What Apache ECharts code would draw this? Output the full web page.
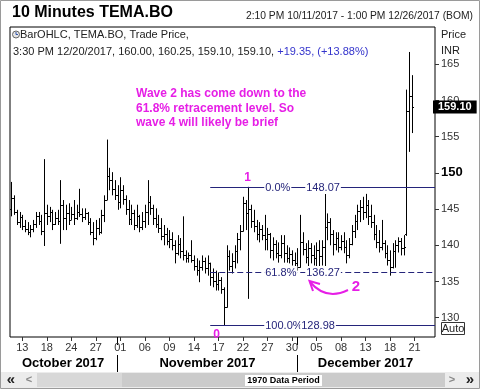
<!DOCTYPE html>
<html><head><meta charset="utf-8">
<script src="https://cdn.jsdelivr.net/npm/echarts@6.0.0/dist/echarts.min.js"></script>
<style>html,body{margin:0;padding:0;background:#fff}#c{width:480px;height:389px}</style>
</head><body><div id="c"></div>
<script>
// ---- data ----
const tradingDays = ['10/11','10/12','10/13','10/16','10/17','10/18','10/19','10/23','10/24','10/25','10/26','10/27','10/30','10/31',
  '11/01','11/02','11/03','11/06','11/07','11/08','11/09','11/10','11/13','11/14','11/15','11/16','11/17','11/20','11/21','11/22','11/23','11/24','11/27','11/28','11/29','11/30',
  '12/01','12/04','12/05','12/06','12/07','12/08','12/11','12/12','12/13','12/14','12/15','12/18','12/19','12/20','12/21','12/22','12/26'];
const tickDays = ['10/13','10/18','10/24','10/27','11/01','11/06','11/09','11/14','11/17','11/22','11/27','11/30','12/05','12/08','12/13','12/18','12/21'];
const monthNames = ['October 2017','November 2017','December 2017'];
const priceTicks = [130,135,140,145,150,155,160,165];

const open = [145.0,146.5,144.6,143.2,143.9,142.6,142.3,141.9,142.2,143.0,
 144.0,143.3,142.0,144.5,144.0,144.6,143.0,143.8,143.3,145.5,
 143.8,144.5,143.5,144.3,143.8,144.6,144.3,143.9,144.4,143.2,
 141.9,141.0,142.4,141.8,144.2,146.3,149.6,149.0,147.8,147.0,
 146.0,147.6,146.4,145.0,143.6,144.5,142.8,144.0,142.5,143.4,
 144.6,146.0,145.2,143.7,143.0,142.4,141.3,141.6,140.6,140.9,
 140.0,139.0,140.2,139.2,138.7,138.2,138.6,138.0,137.2,136.6,
 137.0,137.8,136.8,137.5,135.6,135.0,134.6,135.2,134.0,131.5,
 138.5,137.2,137.8,139.2,140.8,142.0,145.8,144.4,145.0,143.3,
 142.6,141.6,142.2,141.4,140.8,141.5,139.4,140.2,139.0,138.6,
 140.3,138.9,138.3,138.8,137.9,137.5,137.0,140.5,139.5,138.4,
 139.6,138.7,138.2,139.3,138.5,139.8,142.5,143.2,141.5,140.2,
 141.0,139.8,140.6,139.7,138.6,140.2,142.0,143.3,144.8,145.3,
 144.6,145.6,144.0,143.2,141.6,140.5,139.8,140.3,139.0,138.0,
 137.0,139.2,140.0,140.6,139.6,141.5,158.5,160.6];
const high = [148.75,146.9,144.9,144.6,144.2,143.5,143.2,142.8,143.5,144.6,
 144.6,144.2,151.9,145.6,145.3,144.9,144.6,144.9,149.0,146.25,
 145.6,145.8,145.3,146.25,145.6,147.8,145.1,145.1,144.6,143.75,
 143.2,143.5,143.75,144.9,146.9,154.6,150.7,150.1,149.0,148.3,
 149.4,148.3,146.9,146.25,145.6,144.9,145.6,144.2,144.6,145.6,
 149.0,146.8,145.6,145.1,144.2,143.75,142.8,142.4,142.1,141.8,
 140.7,141.4,141.0,144.0,139.3,139.0,140.7,138.6,138.2,137.9,
 138.6,138.3,138.6,137.6,136.8,136.5,136.25,135.6,134.2,140.0,
 139.3,138.9,140.0,141.7,142.8,146.7,146.25,148.07,145.6,144.9,
 143.5,143.2,142.8,144.2,142.4,141.7,141.1,140.7,140.4,141.4,
 141.4,140.0,139.7,139.3,139.0,139.6,144.2,141.8,140.3,140.7,
 140.3,140.0,140.4,140.7,140.7,147.1,144.4,143.75,142.1,141.8,
 141.8,141.4,141.8,140.7,141.0,142.8,144.2,145.6,146.25,146.7,
 147.1,146.25,145.6,144.2,142.8,142.1,143.5,140.7,140.0,139.3,
 140.3,140.7,141.1,141.0,141.4,161.5,166.7,163.5];
const low = [144.0,144.2,142.8,142.4,142.1,141.8,141.4,141.1,141.8,142.4,
 142.8,141.4,139.9,142.8,143.2,142.1,142.8,142.8,140.2,142.1,
 142.1,142.8,143.5,142.8,143.5,143.9,143.2,143.5,142.8,141.4,
 140.0,140.7,141.4,141.6,143.2,146.25,147.6,146.9,146.25,144.9,
 145.1,145.6,144.2,142.8,142.8,142.1,142.4,141.8,142.1,142.4,
 142.8,144.2,142.8,142.4,141.7,140.7,140.0,140.0,139.6,139.3,
 137.5,138.6,138.2,137.9,137.6,137.6,137.6,136.5,135.8,134.9,
 136.5,136.1,135.8,134.4,134.2,133.75,133.75,133.3,128.98,131.4,
 136.5,136.1,136.8,137.5,139.3,141.9,142.1,132.6,142.4,141.8,
 140.7,140.4,140.7,139.3,139.3,138.2,137.9,138.2,137.6,138.2,
 137.6,137.6,137.5,137.2,136.8,136.5,136.9,138.6,137.5,136.9,
 137.5,137.2,137.1,136.8,137.2,136.8,140.7,140.0,138.6,139.3,
 139.0,139.3,138.9,137.5,138.2,140.0,141.0,142.1,143.2,143.5,
 143.75,142.8,142.4,140.7,139.6,139.0,139.3,138.2,137.2,135.8,
 136.8,136.9,139.0,138.6,138.6,141.3,152.9,155.5];
const close = [146.5,144.6,143.2,143.9,142.6,142.3,141.9,142.2,143.0,144.0,
 143.3,142.0,144.5,144.0,144.6,143.0,143.8,143.3,145.5,143.8,
 144.5,143.5,144.3,143.8,144.6,144.3,143.9,144.4,143.2,141.9,
 141.0,142.4,141.8,144.2,146.3,149.6,149.0,147.8,147.0,146.0,
 147.6,146.4,145.0,143.6,144.5,142.8,144.0,142.5,143.4,144.6,
 146.0,145.2,143.7,143.0,142.4,141.3,141.6,140.6,140.9,140.0,
 139.0,140.2,139.2,138.7,138.2,138.6,138.0,137.2,136.6,137.0,
 137.8,136.8,137.5,135.6,135.0,134.6,135.2,134.0,131.5,138.5,
 137.2,137.8,139.2,140.8,142.0,145.8,144.4,145.0,143.3,142.6,
 141.6,142.2,141.4,140.8,141.5,139.4,140.2,139.0,138.6,140.3,
 138.9,138.3,138.8,137.9,137.5,137.0,140.5,139.5,138.4,139.6,
 138.7,138.2,139.3,138.5,139.8,142.5,143.2,141.5,140.2,141.0,
 139.8,140.6,139.7,138.6,140.2,142.0,143.3,144.8,145.3,144.6,
 145.6,144.0,143.2,141.6,140.5,139.8,140.3,139.0,138.0,137.0,
 139.2,140.0,140.6,139.6,139.75,158.5,160.6,159.10];
const fibLevels = [148.07, 136.27, 128.98];
const fibNames = ['0.0%', '61.8%', '100.0%'];
const lastPrice = 159.10;

// ---- build categories: partial first/last sessions get fewer slots ----
const categories = [];
tradingDays.forEach((d, i) => {
  const n = i === 0 ? 1 : (i === tradingDays.length - 1 ? 2 : 3);
  for (let k = 0; k < n; k++) categories.push(d + '|' + k);
});
const catMonth = categories.map(v => parseInt(v.slice(0, 2), 10));
const months = [...new Set(catMonth)];
const monthMid = new Set(), monthEnd = new Set();
months.forEach((m, mi) => {
  const a = catMonth.indexOf(m), b = catMonth.lastIndexOf(m);
  monthMid.add(Math.floor((a + b) / 2));
  if (mi < months.length - 1) monthEnd.add(b);
});
const isTickCat = v => v.endsWith('|0') && tickDays.includes(v.split('|')[0]);
const barData = open.map((o, i) => [i, o, high[i], low[i], close[i]]);

const FONT = '"Liberation Sans", Arial, sans-serif';
const NAVY = '#24247a';
const MAG = '#e61ee6';
const FIB_START = 73;

const chart = echarts.init(document.getElementById('c'));
chart.setOption({
  animation: false,
  textStyle: { fontFamily: FONT },
  grid: { left: 10, right: 45, top: 27, bottom: 52, show: true, borderColor: '#000', borderWidth: 1, backgroundColor: '#fff' },
  xAxis: [
    { type: 'category', data: categories, boundaryGap: true, axisLine: { show: false },
      axisTick: { show: true, alignWithLabel: true, length: 4, lineStyle: { color: '#333' }, interval: (i, v) => isTickCat(v) },
      axisLabel: { interval: (i, v) => isTickCat(v), formatter: v => v.split('|')[0].split('/')[1], fontSize: 11, color: '#333', margin: 5 },
      splitLine: { show: false } },
    { type: 'category', data: categories, boundaryGap: true, position: 'bottom', offset: 18, axisLine: { show: false },
      axisTick: { show: true, alignWithLabel: true, length: 17, lineStyle: { color: '#000' }, interval: (i) => monthEnd.has(i) },
      axisLabel: { interval: (i) => monthMid.has(i), formatter: v => monthNames[parseInt(v.slice(0, 2), 10) - 10], fontSize: 13, fontWeight: 'bold', color: '#000', margin: 2 },
      splitLine: { show: false } },
    { type: 'category', data: categories, boundaryGap: true, position: 'bottom', offset: 0, axisLine: { show: false },
      axisTick: { show: true, alignWithLabel: true, length: 8, lineStyle: { color: '#000' }, interval: (i) => monthEnd.has(i) },
      axisLabel: { show: false }, splitLine: { show: false } }
  ],
  yAxis: { type: 'value', position: 'right', min: 127.33, max: 170.15,
    splitLine: { show: false }, axisLine: { show: false },
    axisTick: { show: true, length: 4, lineStyle: { color: '#333' }, customValues: priceTicks },
    axisLabel: { customValues: priceTicks, margin: 6, fontSize: 11, color: '#333',
      formatter: v => v === 150 ? '{b|150}' : String(v),
      rich: { b: { fontSize: 13, fontWeight: 'bold', color: '#000' } } } },
  series: [
    { type: 'custom', name: 'TEMA.BO', data: barData, encode: { x: 0, y: [1, 2, 3, 4] }, z: 2,
      renderItem: function (params, api) {
        const xi = api.value(0);
        const o = api.coord([xi, api.value(1)]), h = api.coord([xi, api.value(2)]);
        const l = api.coord([xi, api.value(3)]), c = api.coord([xi, api.value(4)]);
        const x = Math.round(h[0]) + 0.5;
        const st = { stroke: '#000', lineWidth: 1 };
        const oy = Math.round(o[1]) + 0.5, cy = Math.round(c[1]) + 0.5;
        return { type: 'group', children: [
          { type: 'line', shape: { x1: x, y1: h[1], x2: x, y2: l[1] }, style: st },
          { type: 'line', shape: { x1: x - 1.5, y1: oy, x2: x, y2: oy }, style: st },
          { type: 'line', shape: { x1: x, y1: cy, x2: x + 1.5, y2: cy }, style: st }
        ] };
      },
      markLine: { symbol: 'none', silent: true, data: [{ yAxis: lastPrice }], lineStyle: { color: 'rgba(0,0,0,0)', width: 1, type: 'solid' },
        label: { show: true, position: 'end', distance: -2, formatter: lastPrice.toFixed(2), backgroundColor: '#000', color: '#fff',
          fontWeight: 'bold', fontSize: 11, lineHeight: 12, padding: [1, 5, 0, 5] } }
    },
    { type: 'custom', name: 'fib', data: fibLevels.map((v, i) => [FIB_START, v, i]), encode: { x: 0, y: 1 }, z: 3,
      renderItem: function (params, api) {
        const cs = params.coordSys;
        const i = api.value(2), lvl = api.value(1);
        const p = api.coord([api.value(0), lvl]);
        const y = Math.round(p[1]) + 0.5;
        const x1 = p[0], x2 = cs.x + cs.width;
        const lx = x1 + 54;
        const valOff = [41, 41, 36][i];
        const ts = { fill: NAVY, fontSize: 11, fontFamily: FONT, verticalAlign: 'middle', align: 'left', backgroundColor: '#fff', padding: [1, 1] };
        return { type: 'group', children: [
          { type: 'line', shape: { x1: x1, y1: y, x2: x2, y2: y }, style: { stroke: NAVY, lineWidth: 1, lineDash: i === 1 ? [6, 3] : null } },
          { type: 'text', x: lx, y: y, style: Object.assign({ text: fibNames[i] }, ts) },
          { type: 'text', x: lx + valOff, y: y, style: Object.assign({ text: lvl.toFixed(2) }, ts) }
        ] };
      }
    }
  ],
  graphic: [
    { type: 'rect', shape: { x: 0.5, y: 0.5, width: 479, height: 388 }, style: { fill: null, stroke: '#9a9a9a', lineWidth: 1 }, z: 100 },
    { type: 'text', x: 12, y: 13, style: { text: '10 Minutes TEMA.BO', font: 'bold 16px ' + FONT, fill: '#000', verticalAlign: 'middle' }, z: 100 },
    { type: 'text', x: 473, y: 16.5, style: { text: '2:10 PM 10/11/2017 - 1:00 PM 12/26/2017 (BOM)', font: '10.3px ' + FONT, fill: '#222', align: 'right', verticalAlign: 'middle' }, z: 100 },
    { type: 'circle', shape: { cx: 16, cy: 34.5, r: 3.5 }, style: { fill: '#e6e6e6', stroke: '#666', lineWidth: 1 }, z: 100 },
    { type: 'polyline', shape: { points: [[16, 32], [16, 34.5], [18, 34.5]] }, style: { stroke: '#3355aa', lineWidth: 1, fill: null }, z: 100 },
    { type: 'text', x: 20, y: 35, style: { text: 'BarOHLC, TEMA.BO, Trade Price,', font: '11px ' + FONT, fill: '#222', verticalAlign: 'middle' }, z: 100 },
    { type: 'text', x: 13, y: 51.5, style: { text: '{a|3:30 PM 12/20/2017, 160.00, 160.25, 159.10, 159.10, }{b|+19.35, (+13.88%)}', verticalAlign: 'middle',
        rich: { a: { fontSize: 11, fontFamily: FONT, fill: '#222' }, b: { fontSize: 11, fontFamily: FONT, fill: '#3333cc' } } }, z: 100 },
    { type: 'text', x: 441, y: 35, style: { text: 'Price', font: '11px ' + FONT, fill: '#222', verticalAlign: 'middle' }, z: 100 },
    { type: 'text', x: 441, y: 50.5, style: { text: 'INR', font: '11px ' + FONT, fill: '#222', verticalAlign: 'middle' }, z: 100 },
    { type: 'text', x: 136, y: 86.5, style: { text: 'Wave 2 has come down to the\n61.8% retracement level. So\nwave 4 will likely be brief', font: 'bold 12px ' + FONT, fill: MAG, lineHeight: 14.5, verticalAlign: 'top' }, z: 100 },
    { type: 'text', x: 247.5, y: 177.5, style: { text: '1', font: 'bold 12px ' + FONT, fill: MAG, align: 'center', verticalAlign: 'middle' }, z: 100 },
    { type: 'text', x: 216.5, y: 335, style: { text: '0', font: 'bold 12px ' + FONT, fill: MAG, align: 'center', verticalAlign: 'middle' }, z: 100 },
    { type: 'text', x: 356, y: 287, style: { text: '2', font: 'bold 15px ' + FONT, fill: MAG, align: 'center', verticalAlign: 'middle' }, z: 100 },
    { type: 'bezierCurve', shape: { x1: 348, y1: 290, cpx1: 336, cpy1: 296, cpx2: 322, cpy2: 296, x2: 310, y2: 282 }, style: { stroke: MAG, lineWidth: 2, fill: null }, z: 100 },
    { type: 'polyline', shape: { points: [[320, 284], [309.5, 281], [313, 291]] }, style: { stroke: MAG, lineWidth: 2, fill: null }, z: 100 },
    { type: 'rect', shape: { x: 441.5, y: 322.5, width: 23, height: 12 }, style: { fill: '#fff', stroke: '#333', lineWidth: 1 }, z: 100 },
    { type: 'text', x: 453, y: 329, style: { text: 'Auto', font: '11px ' + FONT, fill: '#222', align: 'center', verticalAlign: 'middle' }, z: 101 },
    { type: 'rect', shape: { x: 1, y: 372, width: 478, height: 16 }, style: { fill: '#ececec' }, z: 99 },
    { type: 'rect', shape: { x: 37, y: 373, width: 408, height: 14 }, style: { fill: '#cbcbcb' }, z: 100 },
    { type: 'rect', shape: { x: 37, y: 373, width: 85, height: 14 }, style: { fill: '#d8d8d8' }, z: 100 },
    { type: 'rect', shape: { x: 245, y: 375, width: 77, height: 11 }, style: { fill: '#fff' }, z: 101 },
    { type: 'text', x: 283.5, y: 380.5, style: { text: '1970 Data Period', font: 'bold 9px ' + FONT, fill: '#000', align: 'center', verticalAlign: 'middle' }, z: 102 },
    { type: 'text', x: 11, y: 380, style: { text: '«', font: 'bold 15px ' + FONT, fill: '#222', align: 'center', verticalAlign: 'middle' }, z: 101 },
    { type: 'text', x: 29, y: 380, style: { text: '<', font: 'bold 11px ' + FONT, fill: '#888', align: 'center', verticalAlign: 'middle' }, z: 101 },
    { type: 'text', x: 452, y: 380, style: { text: '>', font: 'bold 11px ' + FONT, fill: '#888', align: 'center', verticalAlign: 'middle' }, z: 101 },
    { type: 'text', x: 470, y: 380, style: { text: '»', font: 'bold 15px ' + FONT, fill: '#222', align: 'center', verticalAlign: 'middle' }, z: 101 }
  ]
});
</script></body></html>
